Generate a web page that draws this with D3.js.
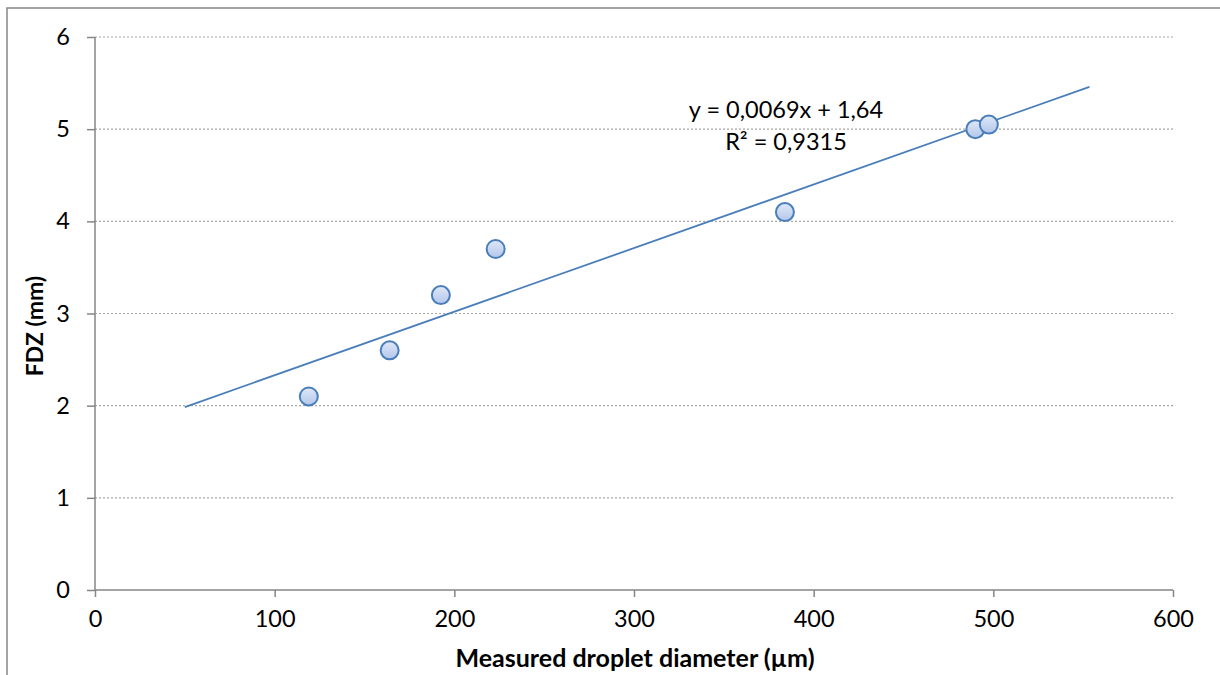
<!DOCTYPE html>
<html>
<head>
<meta charset="utf-8">
<script src="https://cdn.jsdelivr.net/npm/d3@7"></script>
<style>
  html, body { margin: 0; padding: 0; background: #fff; }
  svg { display: block; }
  text { font-family: Lato, "Open Sans", sans-serif; fill: #000; }
</style>
</head>
<body>
<svg id="chart" width="1220" height="675"></svg>
<script>
const diameters = [119, 164, 192.5, 223, 384, 490, 497.5];
const fdz = [2.1, 2.6, 3.2, 3.7, 4.1, 5.0, 5.05];
const xTicks = [0, 100, 200, 300, 400, 500, 600];
const yTicks = [0, 1, 2, 3, 4, 5, 6];
const slope = 0.0069, intercept = 1.64;
const trendRange = [50, 553.5];
const equationLines = ["y = 0,0069x + 1,64", "R\u00B2 = 0,9315"];
const xTitle = "Measured droplet diameter (\u00B5m)";
const yTitle = "FDZ (mm)";

(function () {
const svg = d3.select("#chart");
const pL = 95, pR = 1173, pT = 37, pB = 590;
const x = d3.scaleLinear().domain([0, 600]).range([pL, pR]);
const y = d3.scaleLinear().domain([0, 6]).range([pB, pT]);

// outer chart border (left/top visible)
svg.append("rect").attr("x", 7).attr("y", 8).attr("width", 1240).attr("height", 700)
  .attr("fill", "none").attr("stroke", "#868686").attr("stroke-width", 1.5);

const defs = svg.append("defs");
const grad = defs.append("linearGradient").attr("id", "pt").attr("x1", 0).attr("y1", 0).attr("x2", 0).attr("y2", 1);
grad.append("stop").attr("offset", "0%").attr("stop-color", "#dfe8f7");
grad.append("stop").attr("offset", "100%").attr("stop-color", "#b3c6ea");

// gridlines
svg.append("g").selectAll("line").data(yTicks.filter(d => d > 0)).join("line")
  .attr("x1", pL).attr("x2", pR).attr("y1", d => y(d)).attr("y2", d => y(d))
  .attr("stroke", "#a6a6a6").attr("stroke-width", 1.2).attr("stroke-dasharray", "2,2");

// y axis
const yAxis = svg.append("g").attr("transform", `translate(${pL},0)`)
  .call(d3.axisLeft(y).tickValues(yTicks).tickSize(8).tickPadding(17).tickFormat(d3.format("d")));
// x axis
const xAxis = svg.append("g").attr("transform", `translate(0,${pB})`)
  .call(d3.axisBottom(x).tickValues(xTicks).tickSize(7).tickPadding(13).tickFormat(d3.format("d")));

[yAxis, xAxis].forEach(a => {
  a.select(".domain").attr("stroke", "#868686").attr("stroke-width", 1.5);
  a.selectAll(".tick line").attr("stroke", "#868686").attr("stroke-width", 1.5);
  a.selectAll(".tick text").attr("font-size", 23.5).attr("font-family", "Lato, sans-serif").attr("fill", "#000");
});
yAxis.select(".domain").attr("d", `M0,${y(6)}V${y(0)}`);
xAxis.select(".domain").attr("d", `M${x(0)},0H${x(600)}`);

// trendline
svg.append("line")
  .attr("x1", x(trendRange[0])).attr("y1", y(slope * trendRange[0] + intercept))
  .attr("x2", x(trendRange[1])).attr("y2", y(slope * trendRange[1] + intercept))
  .attr("stroke", "#4a7ebb").attr("stroke-width", 1.8);

// points
svg.append("g").selectAll("circle").data(diameters.map((d, i) => [d, fdz[i]])).join("circle")
  .attr("cx", d => x(d[0])).attr("cy", d => y(d[1])).attr("r", 9)
  .attr("fill", "url(#pt)").attr("stroke", "#4a7ebb").attr("stroke-width", 2);

// equation
svg.append("text").attr("x", 786).attr("y", 118).attr("text-anchor", "middle").attr("font-size", 23.5).text(equationLines[0]);
svg.append("text").attr("x", 786).attr("y", 150).attr("text-anchor", "middle").attr("font-size", 23.5).text(equationLines[1]);

// axis titles
svg.append("text").attr("x", 635).attr("y", 667).attr("text-anchor", "middle")
  .attr("font-size", 25).attr("font-weight", "bold").text(xTitle);
svg.append("text").attr("transform", "translate(43,326) rotate(-90)").attr("text-anchor", "middle")
  .attr("font-size", 23).attr("font-weight", "bold").text(yTitle);
})();
</script>
</body>
</html>
